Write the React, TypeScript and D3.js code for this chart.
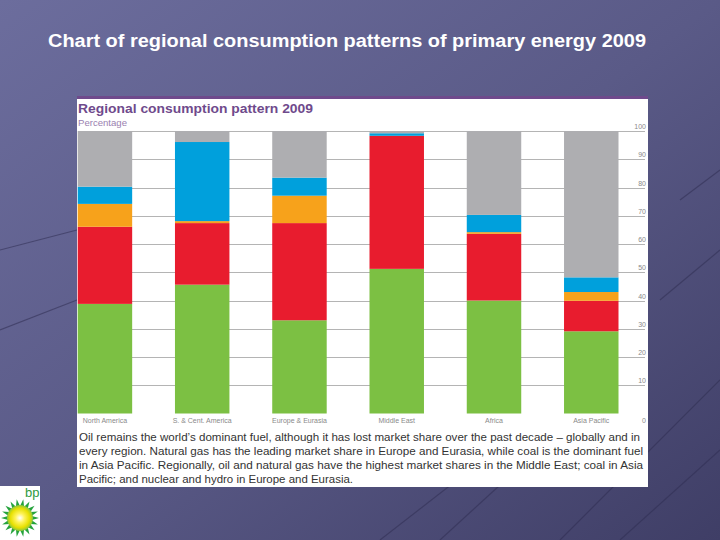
import React from "react";
import * as d3 from "d3";

const regions = ["North America", "S. & Cent. America", "Europe & Eurasia", "Middle East", "Africa", "Asia Pacific"];
const oil = [38.8, 45.6, 33.0, 51.2, 40.0, 29.1];
const gas = [27.3, 21.8, 34.4, 47.1, 23.6, 10.8];
const nuclear = [8.1, 0.7, 9.7, 0.0, 0.6, 3.1];
const hydro = [6.1, 28.0, 6.4, 0.9, 6.1, 5.2];
const coal = [19.7, 3.9, 16.5, 0.8, 29.7, 51.8];
const fuels = ["Oil", "Natural gas", "Nuclear energy", "Hydroelectricity", "Coal"];
const fuelColors = ["#7cc043", "#e81c2e", "#f7a21b", "#00a0dc", "#aeaeb1"];
const yTicks = [0, 10, 20, 30, 40, 50, 60, 70, 80, 90, 100];
const descLines = [
  "Oil remains the world\u2019s dominant fuel, although it has lost market share over the past decade \u2013 globally and in",
  "every region. Natural gas has the leading market share in Europe and Eurasia, while coal is the dominant fuel",
  "in Asia Pacific. Regionally, oil and natural gas have the highest market shares in the Middle East; coal in Asia",
  "Pacific; and nuclear and hydro in Europe and Eurasia.",
];
const descWidths = [561, 564, 564, 274];

export default function App() {
  const W = 720, H = 540;
  const rows = regions.map((r, i) => ({
    region: r,
    "Oil": oil[i],
    "Natural gas": gas[i],
    "Nuclear energy": nuclear[i],
    "Hydroelectricity": hydro[i],
    "Coal": coal[i],
  }));
  const stack = d3.stack<any>().keys(fuels)(rows);
  const x = d3.scaleBand().domain(regions).range([77.7, 618.5]).paddingInner(0.44).paddingOuter(0);
  const y = d3.scaleLinear().domain([0, 100]).range([413.5, 131]);

  // decorative background lines
  const deco = [
    [560, 540, 720, 380], [620, 540, 720, 450], [440, 540, 560, 430], [660, 300, 720, 250],
    [380, 540, 470, 470], [680, 200, 720, 170], [0, 330, 77, 300], [0, 250, 77, 230],
  ];

  // helios petals
  const petals = d3.range(18).map((i) => {
    const a = (i / 18) * Math.PI * 2;
    const cx = 20, cy = 518;
    const r1 = 12, r2 = 19, w = 0.17;
    return `M${cx + r1 * Math.cos(a - w)},${cy + r1 * Math.sin(a - w)} L${cx + r2 * Math.cos(a)},${cy + r2 * Math.sin(a)} L${cx + r1 * Math.cos(a + w)},${cy + r1 * Math.sin(a + w)} Z`;
  });

  return (
    <svg width={W} height={H} style={{ position: "fixed", left: 0, top: 0, display: "block" }} fontFamily="Liberation Sans, Arial, sans-serif">
      <defs>
        <linearGradient id="bg" x1="0" y1="0" x2="1" y2="1">
          <stop offset="0" stopColor="#6c6d9d" />
          <stop offset="0.5" stopColor="#5a5a87" />
          <stop offset="1" stopColor="#3f3e66" />
        </linearGradient>
        <radialGradient id="sun" cx="0.5" cy="0.5" r="0.5">
          <stop offset="0" stopColor="#ffffff" />
          <stop offset="0.35" stopColor="#fff35a" />
          <stop offset="0.75" stopColor="#e6e000" />
          <stop offset="1" stopColor="#8cc63f" />
        </radialGradient>
      </defs>
      <rect x={0} y={0} width={W} height={H} fill="url(#bg)" />
      {deco.map((d, i) => (
        <line key={i} x1={d[0]} y1={d[1]} x2={d[2]} y2={d[3]} stroke="#2f2e52" strokeOpacity={0.55} strokeWidth={1.2} />
      ))}
      <text x={48} y={47} fill="#ffffff" fontSize={17.5} fontWeight="bold" textLength={598} lengthAdjust="spacingAndGlyphs">
        Chart of regional consumption patterns of primary energy 2009
      </text>

      {/* panel */}
      <rect x={77} y={96} width={571} height={391} fill="#ffffff" />
      <rect x={77} y={96} width={571} height={3} fill="#6f4a8c" />
      <text x={78} y={113} fill="#6f4a8c" fontSize={13} fontWeight="bold" textLength={235} lengthAdjust="spacingAndGlyphs">Regional consumption pattern 2009</text>
      <text x={78} y={125.5} fill="#9a7fb0" fontSize={8.5} textLength={49} lengthAdjust="spacingAndGlyphs">Percentage</text>

      {/* gridlines */}
      {yTicks.filter((t) => t > 0).map((t) => (
        <line key={t} x1={78} x2={645} y1={Math.round(y(t)) + 0.5} y2={Math.round(y(t)) + 0.5} stroke="#b4b4b4" strokeWidth={1} />
      ))}

      {/* bars */}
      {stack.map((s, si) => (
        <g key={s.key} fill={fuelColors[si]}>
          {s.map((d: any) => (
            <rect
              key={d.data.region}
              x={x(d.data.region)}
              width={x.bandwidth()}
              y={y(d[1])}
              height={Math.max(0, y(d[0]) - y(d[1]))}
            />
          ))}
        </g>
      ))}

      {/* y tick labels */}
      {yTicks.map((t) => (
        <text key={t} x={646} y={t === 0 ? 423 : y(t) - 2} textAnchor="end" fill="#8a8a8a" fontSize={7}>
          {t}
        </text>
      ))}

      {/* category labels */}
      {regions.map((r) => (
        <text key={r} x={(x(r) as number) + x.bandwidth() / 2} y={423} textAnchor="middle" fill="#8a8a8a" fontSize={7}>
          {r}
        </text>
      ))}

      {/* description */}
      {descLines.map((l, i) => (
        <text key={i} x={79} y={441 + i * 14} fill="#333333" fontSize={11} textLength={descWidths[i]} lengthAdjust="spacingAndGlyphs">
          {l}
        </text>
      ))}

      {/* bp logo */}
      <rect x={0} y={486} width={40} height={54} fill="#ffffff" />
      <text x={25} y={497} fill="#2f9a3e" fontSize={13}>bp</text>
      {petals.map((p, i) => (
        <path key={i} d={p} fill="#25a23c" />
      ))}
      <circle cx={20} cy={518} r={13} fill="url(#sun)" />
    </svg>
  );
}
